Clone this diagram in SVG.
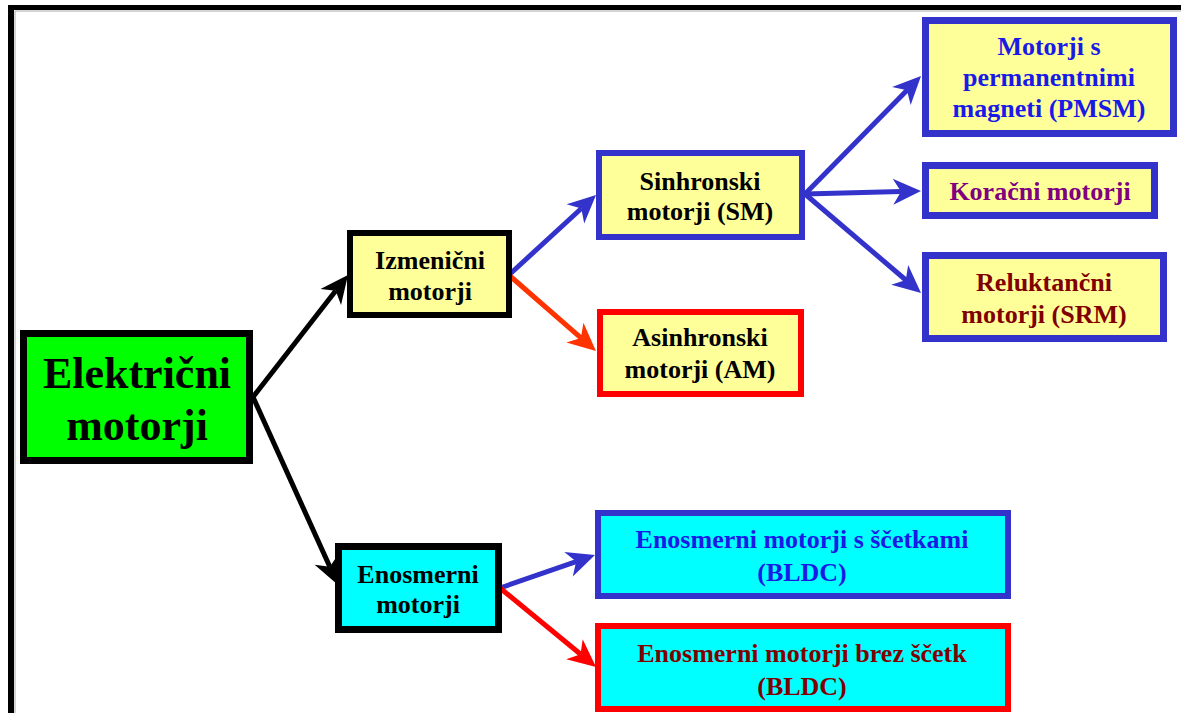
<svg xmlns="http://www.w3.org/2000/svg" width="1181" height="713" viewBox="0 0 1181 713">
<defs>
<style>
.t{font-family:"Liberation Serif","Times New Roman",serif;font-weight:bold;font-size:26px;text-anchor:middle}
.big{font-size:44px}
.ln{fill:none;stroke-width:5}
</style>
<marker id="mk" markerUnits="userSpaceOnUse" viewBox="-2 -15 32 30" markerWidth="32" markerHeight="30" refX="8" refY="0" orient="auto"><path d="M0,-13 L28,0 L0,13 L8,0 Z" fill="#000"/></marker>
<marker id="mb" markerUnits="userSpaceOnUse" viewBox="-2 -15 32 30" markerWidth="32" markerHeight="30" refX="8" refY="0" orient="auto"><path d="M0,-13 L28,0 L0,13 L8,0 Z" fill="#3333CC"/></marker>
<marker id="mo" markerUnits="userSpaceOnUse" viewBox="-2 -15 32 30" markerWidth="32" markerHeight="30" refX="8" refY="0" orient="auto"><path d="M0,-13 L28,0 L0,13 L8,0 Z" fill="#FF3300"/></marker>
<marker id="mr" markerUnits="userSpaceOnUse" viewBox="-2 -15 32 30" markerWidth="32" markerHeight="30" refX="8" refY="0" orient="auto"><path d="M0,-13 L28,0 L0,13 L8,0 Z" fill="#FF0000"/></marker>
</defs>
<rect width="1181" height="713" fill="#fff"/>
<g id="frame">
<line x1="15" y1="11" x2="1181" y2="11" stroke="#aaa" stroke-width="1"/>
<line x1="15" y1="11" x2="15" y2="713" stroke="#aaa" stroke-width="1"/>
<line x1="8" y1="7.5" x2="1181" y2="7.5" stroke="#000" stroke-width="5"/>
<line x1="11" y1="5" x2="11" y2="713" stroke="#000" stroke-width="6"/>
</g>
<g id="connectors">
<line class="ln" stroke="#000" x1="253" y1="397" x2="335.7" y2="290.8" marker-end="url(#mk)"/>
<line class="ln" stroke="#000" x1="253" y1="397" x2="329.8" y2="566.8" marker-end="url(#mk)"/>
<line class="ln" stroke="#3333CC" x1="510" y1="274" x2="581.3" y2="208.5" marker-end="url(#mb)"/>
<line class="ln" stroke="#FF3300" x1="510" y1="276" x2="580.9" y2="337.9" marker-end="url(#mo)"/>
<line class="ln" stroke="#3333CC" x1="805" y1="194" x2="907" y2="90.3" marker-end="url(#mb)"/>
<line class="ln" stroke="#3333CC" x1="805" y1="194" x2="901" y2="191.5" marker-end="url(#mb)"/>
<line class="ln" stroke="#3333CC" x1="805" y1="194" x2="905.8" y2="280" marker-end="url(#mb)"/>
<line class="ln" stroke="#3333CC" x1="500" y1="588" x2="576.1" y2="561.6" marker-end="url(#mb)"/>
<line class="ln" stroke="#FF0000" x1="500" y1="588" x2="580.6" y2="654.3" marker-end="url(#mr)"/>
</g>
<g id="n-elektricni">
<rect x="23.5" y="333.5" width="226" height="127" fill="#00FF00" stroke="#000" stroke-width="7"/>
<text class="t big" x="137" y="388">Električni</text>
<text class="t big" x="137" y="440">motorji</text>
</g>
<g id="n-izmenicni">
<rect x="350" y="233" width="159" height="82" fill="#FFFF99" stroke="#000" stroke-width="6"/>
<text class="t" x="430" y="269">Izmenični</text>
<text class="t" x="430" y="300">motorji</text>
</g>
<g id="n-enosmerni">
<rect x="338.5" y="546.5" width="160" height="83" fill="#00FFFF" stroke="#000" stroke-width="7"/>
<text class="t" x="418" y="583">Enosmerni</text>
<text class="t" x="418" y="613">motorji</text>
</g>
<g id="n-sinhronski">
<rect x="599" y="153" width="203" height="84" fill="#FFFF99" stroke="#3333CC" stroke-width="6"/>
<text class="t" x="700" y="190">Sinhronski</text>
<text class="t" x="700" y="220">motorji (SM)</text>
</g>
<g id="n-asinhronski">
<rect x="600" y="312" width="201" height="82" fill="#FFFF99" stroke="#FF0000" stroke-width="6"/>
<text class="t" x="700" y="346">Asinhronski</text>
<text class="t" x="700" y="378">motorji (AM)</text>
</g>
<g id="n-pmsm">
<rect x="925.5" y="20.5" width="248" height="113" fill="#FFFF99" stroke="#3333CC" stroke-width="7"/>
<text class="t" x="1049" y="55" fill="#1A1AE6">Motorji s</text>
<text class="t" x="1049" y="86" fill="#1A1AE6">permanentnimi</text>
<text class="t" x="1049" y="117" fill="#1A1AE6">magneti (PMSM)</text>
</g>
<g id="n-koracni">
<rect x="925.5" y="165.5" width="229" height="50" fill="#FFFF99" stroke="#3333CC" stroke-width="7"/>
<text class="t" x="1040" y="200" fill="#800080">Koračni motorji</text>
</g>
<g id="n-reluktancni">
<rect x="925.5" y="255.5" width="238" height="83" fill="#FFFF99" stroke="#3333CC" stroke-width="7"/>
<text class="t" x="1044" y="291" fill="#800000">Reluktančni</text>
<text class="t" x="1044" y="323" fill="#800000">motorji (SRM)</text>
</g>
<g id="n-scetkami">
<rect x="598" y="513" width="410" height="83" fill="#00FFFF" stroke="#3333CC" stroke-width="6"/>
<text class="t" x="802" y="548" fill="#1A1AE6">Enosmerni motorji s ščetkami</text>
<text class="t" x="802" y="581" fill="#1A1AE6">(BLDC)</text>
</g>
<g id="n-brez">
<rect x="598" y="626" width="410" height="83" fill="#00FFFF" stroke="#FF0000" stroke-width="6"/>
<text class="t" x="802" y="662" fill="#800000">Enosmerni motorji brez ščetk</text>
<text class="t" x="802" y="695" fill="#800000">(BLDC)</text>
</g>
</svg>
